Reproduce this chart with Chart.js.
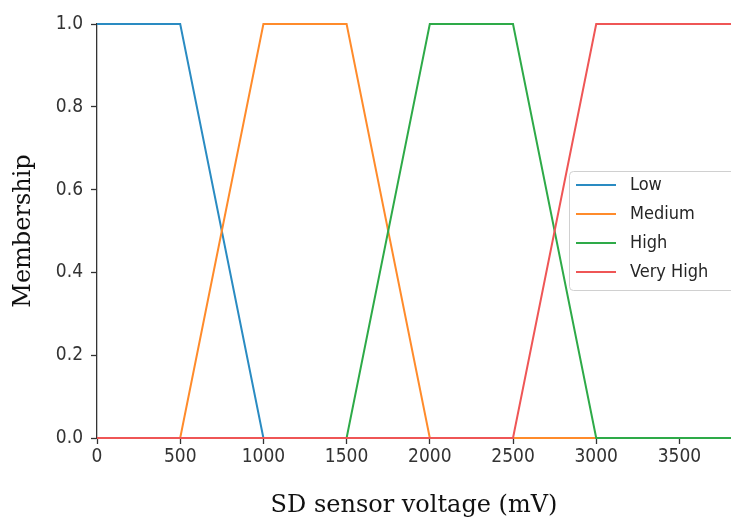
<!DOCTYPE html>
<html>
<head>
<meta charset="utf-8">
<script src="https://cdn.jsdelivr.net/npm/chart.js@4.4.0/dist/chart.umd.min.js"></script>
<style>
  html, body { margin: 0; padding: 0; background: #fff; }
  #wrap { width: 731px; height: 520px; }
</style>
</head>
<body>
<div id="wrap"><canvas id="chart" width="731" height="520"></canvas></div>
<script>
// Membership function breakpoints (mV) and values
const lowX = [0, 500, 1000, 3810];
const lowY = [1, 1, 0, 0];
const mediumX = [0, 500, 1000, 1500, 2000, 3810];
const mediumY = [0, 0, 1, 1, 0, 0];
const highX = [0, 1500, 2000, 2500, 3000, 3810];
const highY = [0, 0, 1, 1, 0, 0];
const veryHighX = [0, 2500, 3000, 3810];
const veryHighY = [0, 0, 1, 1];

const seriesNames = ["Low", "Medium", "High", "Very High"];
const colors = ["#2a8bc2", "#ff8b2b", "#2eaa48", "#ef5656"];
const xTicks = [0, 500, 1000, 1500, 2000, 2500, 3000, 3500];

function pts(xs, ys) {
  return xs.map((x, i) => ({ x: x, y: ys[i] }));
}

const tickFont = { family: "'DejaVu Sans Condensed', 'DejaVu Sans', sans-serif", size: 19 };
const titleFont = { family: "'DejaVu Serif', 'Liberation Serif', serif", size: 24 };

// legend drawn inside the plot, like matplotlib's
const boxLegend = {
  id: "boxLegend",
  afterDatasetsDraw(chart) {
    const ctx = chart.ctx;
    const x0 = 569, y0 = 171, w = 180, h = 119;
    ctx.save();
    ctx.fillStyle = "rgba(255,255,255,0.85)";
    ctx.strokeStyle = "#d0d0d0";
    ctx.lineWidth = 1;
    ctx.beginPath();
    ctx.roundRect(x0 + 0.5, y0 + 0.5, w, h, 4);
    ctx.fill();
    ctx.stroke();
    ctx.font = "18px 'DejaVu Sans Condensed', 'DejaVu Sans', sans-serif";
    ctx.textBaseline = "middle";
    chart.data.datasets.forEach((ds, i) => {
      const y = 185 + i * 29;
      ctx.strokeStyle = ds.borderColor;
      ctx.lineWidth = 2;
      ctx.beginPath();
      ctx.moveTo(576, y);
      ctx.lineTo(616, y);
      ctx.stroke();
      ctx.fillStyle = "#262626";
      ctx.fillText(ds.label, 630, y);
    });
    ctx.restore();
  }
};

new Chart(document.getElementById("chart"), {
  type: "line",
  data: {
    datasets: [
      { label: seriesNames[0], data: pts(lowX, lowY) },
      { label: seriesNames[1], data: pts(mediumX, mediumY) },
      { label: seriesNames[2], data: pts(highX, highY) },
      { label: seriesNames[3], data: pts(veryHighX, veryHighY) }
    ].map((d, i) => Object.assign(d, {
      borderColor: colors[i],
      backgroundColor: colors[i],
      borderWidth: 2,
      pointRadius: 0,
      tension: 0,
      fill: false,
      order: 3 - i // later series painted on top, as in matplotlib
    }))
  },
  options: {
    responsive: false,
    animation: false,
    clip: false,
    layout: { padding: { top: 24, right: 0, left: 0, bottom: 0 } },
    plugins: { legend: { display: false }, tooltip: { enabled: false } },
    scales: {
      x: {
        type: "linear",
        min: 0,
        max: 3810,
        afterFit(scale) { scale.height = 82; },
        afterBuildTicks(scale) { scale.ticks = xTicks.map(v => ({ value: v })); },
        grid: { drawOnChartArea: false, drawTicks: true, tickLength: 6, color: "#333", tickWidth: 1.3 },
        border: { display: true, color: "#333", width: 1.3 },
        ticks: { color: "#333", font: tickFont, padding: 2, maxRotation: 0, callback: v => String(v) },
        title: { display: true, text: "SD sensor voltage (mV)", color: "#111", font: titleFont, padding: { top: 0, bottom: 0 } }
      },
      y: {
        min: 0,
        max: 1,
        afterFit(scale) { scale.width = 97; },
        grid: { drawOnChartArea: false, drawTicks: true, tickLength: 6, color: "#333", tickWidth: 1.3 },
        border: { display: true, color: "#333", width: 1.3 },
        ticks: { color: "#333", font: tickFont, padding: 8, stepSize: 0.2, callback: v => v.toFixed(1) },
        title: { display: true, text: "Membership", color: "#111", font: titleFont, padding: { top: 9, bottom: 0 } }
      }
    }
  },
  plugins: [boxLegend]
});
</script>
</body>
</html>
